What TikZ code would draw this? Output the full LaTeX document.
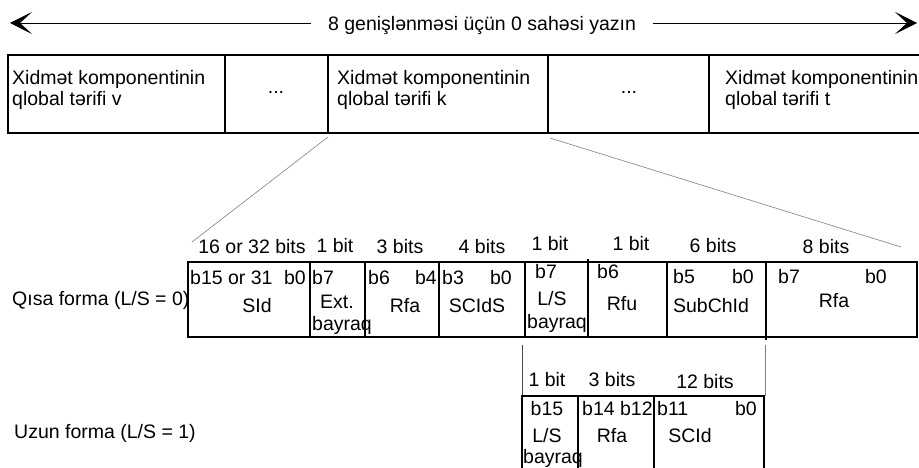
\documentclass[tikz,border=0pt]{standalone}
\usepackage{fontspec}
\setmainfont{Liberation Sans}
\usetikzlibrary{arrows.meta}

\tikzset{
  borde/.style={line width=1.5pt},
  guia/.style={line width=0.6pt, gray},
  texto/.style={inner sep=0pt, font=\fontsize{19.5}{22}\selectfont},
  punta/.style={line width=0.8pt, -{Stealth[length=22pt, width=22pt, inset=12pt]}},
}

\begin{document}
\begin{tikzpicture}[x=1pt, y=-1pt]
    \useasboundingbox (0,0) rectangle (919,468);

    % Flecha superior
    \coordinate (izq) at (10,23);
    \coordinate (der) at (917,23);
    \node[texto, anchor=base, inner xsep=17pt] (titulo) at (482,31) {8 genişlənməsi üçün 0 sahəsi yazın};
    \draw[punta] (titulo.west |- izq) -- (izq);
    \draw[punta] (titulo.east |- der) -- (der);

    % Fila de componentes
    \draw[borde] (921,55) -- (8,55) -- (8,133) -- (921,133);
    \draw[borde] (225,55) -- (225,133);
    \draw[borde] (328,55) -- (328,133);
    \draw[borde] (548,55) -- (548,133);
    \draw[borde] (709,55) -- (709,133);
    \node[texto, anchor=base west] (v1) at (12,85) {Xidmət komponentinin};
    \node[texto, anchor=base west] (v2) at (12,106) {qlobal tərifi v};
    \node[texto, anchor=base] (p1) at (276,94) {...};
    \node[texto, anchor=base west] (k1) at (337,85) {Xidmət komponentinin};
    \node[texto, anchor=base west] (k2) at (337,106) {qlobal tərifi k};
    \node[texto, anchor=base] (p2) at (629,94) {...};
    \node[texto, anchor=base west] (t1) at (725,85) {Xidmət komponentinin};
    \node[texto, anchor=base west] (t2) at (725,106) {qlobal tərifi t};

    % Lineas de ampliacion
    \coordinate (k-izq) at (328,137);
    \coordinate (k-der) at (550,138);
    \coordinate (corta-izq) at (192,242);
    \coordinate (corta-der) at (901,247);
    \draw[guia] (k-izq) -- (corta-izq);
    \draw[guia] (k-der) -- (corta-der);

    % Forma corta
    \node[texto, anchor=base west] (qisa) at (12,305) {Qısa forma (L/S = 0)};
    \draw[borde] (188,262) rectangle (917,337);
    \draw[borde] (310,262) -- (310,337);
    \draw[borde] (365,262) -- (365,337);
    \draw[borde] (439,262) -- (439,337);
    \draw[borde] (525,262) -- (525,337);
    \draw[borde] (588,259) -- (588,337);
    \draw[borde] (667,262) -- (667,337);
    \draw[borde] (766,262) -- (766,340);

    \node[texto, anchor=base] (sid-bits) at (252,253) {16 or 32 bits};
    \node[texto, anchor=base] (ext-bits) at (335,252) {1 bit};
    \node[texto, anchor=base] (rfa-bits) at (400,253) {3 bits};
    \node[texto, anchor=base] (scids-bits) at (482,253) {4 bits};
    \node[texto, anchor=base] (ls-bits) at (550,250) {1 bit};
    \node[texto, anchor=base] (rfu-bits) at (631,250) {1 bit};
    \node[texto, anchor=base] (sub-bits) at (713,252) {6 bits};
    \node[texto, anchor=base] (rfb-bits) at (826,253) {8 bits};

    \node[texto, anchor=base west] (sid-a) at (190,284) {b15 or 31};
    \node[texto, anchor=base east] (sid-b) at (306,284) {b0};
    \node[texto, anchor=base] (sid) at (257,312) {SId};
    \node[texto, anchor=base west] (ext-a) at (312,284) {b7};
    \node[texto, anchor=base] (ext) at (337,308) {Ext.};
    \node[texto, anchor=base west] (ext-c) at (312,330) {bayraq};
    \node[texto, anchor=base west] (rfa-a) at (368,284) {b6};
    \node[texto, anchor=base east] (rfa-b) at (437,284) {b4};
    \node[texto, anchor=base] (rfa) at (405,312) {Rfa};
    \node[texto, anchor=base west] (scids-a) at (442,284) {b3};
    \node[texto, anchor=base east] (scids-b) at (512,284) {b0};
    \node[texto, anchor=base] (scids) at (477,312) {SCIdS};
    \node[texto, anchor=base west] (ls-a) at (535,278) {b7};
    \node[texto, anchor=base] (ls) at (552,305) {L/S};
    \node[texto, anchor=base west] (ls-c) at (527,328) {bayraq};
    \node[texto, anchor=base west] (rfu-a) at (597,278) {b6};
    \node[texto, anchor=base] (rfu) at (622,310) {Rfu};
    \node[texto, anchor=base west] (sub-a) at (673,283) {b5};
    \node[texto, anchor=base east] (sub-b) at (754,283) {b0};
    \node[texto, anchor=base] (sub) at (711,312) {SubChId};
    \node[texto, anchor=base west] (rfb-a) at (778,283) {b7};
    \node[texto, anchor=base east] (rfb-b) at (887,283) {b0};
    \node[texto, anchor=base] (rfb) at (834,307) {Rfa};

    % Forma larga
    \node[texto, anchor=base west] (uzun) at (14,438) {Uzun forma (L/S = 1)};
    \coordinate (ls-baja) at (522,345);
    \coordinate (sub-baja) at (765,345);
    \coordinate (larga-izq) at (522,396);
    \coordinate (larga-der) at (765,396);
    \draw[line width=0.8pt, black!70] (ls-baja) -- (larga-izq);
    \draw[guia] (sub-baja) -- (larga-der);
    \draw[borde] (522,468) -- (522,396) -- (764,396) -- (764,468);
    \draw[borde] (578,396) -- (578,468);
    \draw[borde] (654,396) -- (654,468);

    \node[texto, anchor=base] (l-ls-bits) at (547,386) {1 bit};
    \node[texto, anchor=base] (l-rfa-bits) at (612,386) {3 bits};
    \node[texto, anchor=base] (l-scid-bits) at (705,388) {12 bits};
    \node[texto, anchor=base] (l-ls-a) at (547,415) {b15};
    \node[texto, anchor=base] (l-ls) at (547,442) {L/S};
    \node[texto, anchor=base west] (l-ls-c) at (523,463) {bayraq};
    \node[texto, anchor=base west] (l-rfa-a) at (582,415) {b14 b12};
    \node[texto, anchor=base] (l-rfa) at (612,442) {Rfa};
    \node[texto, anchor=base west] (l-scid-a) at (657,415) {b11};
    \node[texto, anchor=base east] (l-scid-b) at (757,415) {b0};
    \node[texto, anchor=base] (l-scid) at (690,442) {SCId};
\end{tikzpicture}
\end{document}
